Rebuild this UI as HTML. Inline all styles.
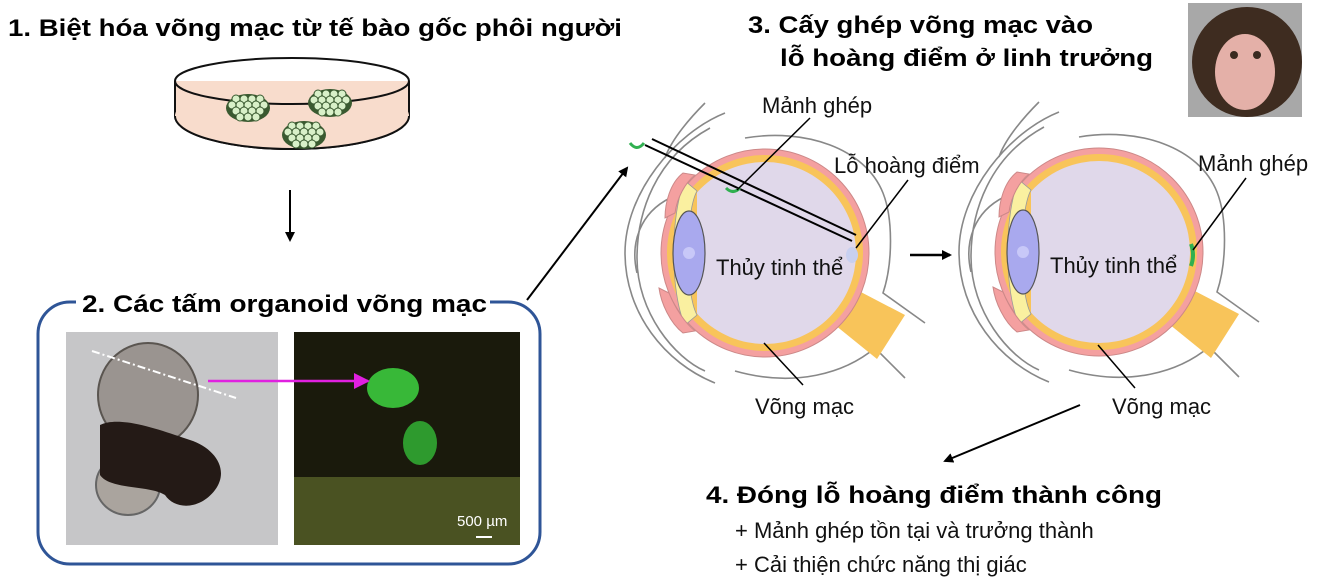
<!DOCTYPE html>
<html><head><meta charset="utf-8"><style>
html,body{margin:0;padding:0;background:#fff;width:1321px;height:587px;overflow:hidden}
text{font-family:"Liberation Sans",Arial,sans-serif}
.b{font-weight:bold;font-size:24px;fill:#000}
.n{font-size:22px;fill:#111}
</style></head><body>
<svg width="1321" height="587" viewBox="0 0 1321 587" xmlns="http://www.w3.org/2000/svg">
<defs>
<marker id="ah" markerWidth="10" markerHeight="10" refX="8" refY="5" orient="auto" markerUnits="userSpaceOnUse"><path d="M0,0 L10,5 L0,10 z" fill="#000"/></marker>
<marker id="am" markerWidth="16" markerHeight="16" refX="14" refY="8" orient="auto" markerUnits="userSpaceOnUse"><path d="M0,0 L16,8 L0,16 z" fill="#e020e0"/></marker>
<clipPath id="vc"><rect x="-68" y="-120" width="200" height="240"/></clipPath>
<g id="col">
 <ellipse rx="22" ry="14" fill="#3a5a30"/>
 <g fill="#d8f0c8" stroke="#3a5a30" stroke-width="1">
  <circle cx="-12" cy="-9" r="4"/><circle cx="-4" cy="-9" r="4"/><circle cx="4" cy="-9" r="4"/><circle cx="12" cy="-9" r="4"/>
  <circle cx="-16" cy="-3" r="4"/><circle cx="-8" cy="-3" r="4"/><circle cx="0" cy="-3" r="4"/><circle cx="8" cy="-3" r="4"/><circle cx="16" cy="-3" r="4"/>
  <circle cx="-12" cy="3" r="4"/><circle cx="-4" cy="3" r="4"/><circle cx="4" cy="3" r="4"/><circle cx="12" cy="3" r="4"/>
  <circle cx="-8" cy="9" r="4"/><circle cx="0" cy="9" r="4"/><circle cx="8" cy="9" r="4"/>
 </g>
</g>
<g id="eye">
 <g fill="none" stroke="#888" stroke-width="1.6">
  <path d="M-40,-140 C-90,-120 -140,-60 -140,0 C-140,60 -100,110 -50,130"/>
  <path d="M-55,-125 C-110,-95 -128,-40 -128,5 C-128,60 -90,105 -60,118"/>
  <path d="M-95,-55 C-125,-40 -135,-10 -128,20"/>
  <path d="M-20,-115 C40,-125 100,-105 118,-60 C128,-35 128,10 118,40 L160,70"/>
  <path d="M-30,118 C30,135 80,120 110,95 L140,125"/>
  <path d="M-60,-150 C-80,-130 -95,-110 -100,-95"/>
 </g>
 <path d="M92,37 L140,62 L112,106 L70,72 Z" fill="#f8c45a"/>
 <circle r="104" fill="#f4a0a0" stroke="#c88" stroke-width="1"/>
 <circle r="98" fill="#f8c45a"/>
 <circle r="91" fill="#e0d8ea" clip-path="url(#vc)"/>
 <path d="M-68,-62 C-80,-40 -80,40 -68,62 L-80,72 C-95,40 -95,-40 -80,-72 Z" fill="#faf0a0" stroke="#999" stroke-width="0.8"/>
 <path d="M-82,-80 C-95,-70 -100,-50 -100,-35 L-90,-40 C-88,-55 -80,-70 -70,-78 Z" fill="#f4a0a0" stroke="#c88"/>
 <path d="M-82,80 C-95,70 -104,50 -106,35 L-96,40 C-90,55 -80,70 -70,78 Z" fill="#f4a0a0" stroke="#c88"/>
 <ellipse cx="-76" cy="0" rx="16" ry="42" fill="#a9a9ee" stroke="#555" stroke-width="1.2"/>
 <circle cx="-76" cy="0" r="6" fill="#c8c8f8"/>
</g>
</defs>

<text x="8" y="36" class="b" textLength="614" lengthAdjust="spacingAndGlyphs">1. Biệt hóa võng mạc từ tế bào gốc phôi người</text>
<g stroke="#111" stroke-width="2">
 <path d="M175,81 L175,116 A117,33 0 0 0 409,116 L409,81" fill="#f8dccc"/>
 <ellipse cx="292" cy="116" rx="117" ry="33" fill="#f8dccc" stroke="none"/>
 <path d="M175,116 A117,33 0 0 0 409,116" fill="none"/>
 <ellipse cx="292" cy="81" rx="117" ry="23" fill="none"/>
</g>
<use href="#col" transform="translate(248,108)"/>
<use href="#col" transform="translate(330,103)"/>
<use href="#col" transform="translate(304,135)"/>
<line x1="290" y1="190" x2="290" y2="240" stroke="#000" stroke-width="2" marker-end="url(#ah)"/>

<rect x="38" y="302" width="502" height="262" rx="32" fill="none" stroke="#2f5597" stroke-width="3"/>
<rect x="76" y="292" width="414" height="26" fill="#fff"/>
<text x="82" y="312" class="b" textLength="405" lengthAdjust="spacingAndGlyphs">2. Các tấm organoid võng mạc</text>
<rect x="66" y="332" width="212" height="213" fill="#c6c6c8"/>
<ellipse cx="148" cy="395" rx="50" ry="52" fill="#9a9490" stroke="#5a5550" stroke-width="2"/>
<ellipse cx="128" cy="485" rx="32" ry="30" fill="#aaa49e" stroke="#666" stroke-width="2"/>
<path d="M100,425 C120,415 160,430 190,440 C215,448 230,470 215,490 C200,510 175,510 165,495 C150,485 110,490 100,475 Z" fill="#241a16"/>
<line x1="92" y1="351" x2="236" y2="398" stroke="#fff" stroke-width="2" stroke-dasharray="8,3,2,3"/>
<rect x="294" y="332" width="226" height="213" fill="#1a1a0c"/>
<rect x="294" y="477" width="226" height="68" fill="#4a5222"/>
<ellipse cx="393" cy="388" rx="26" ry="20" fill="#38b838"/>
<ellipse cx="420" cy="443" rx="17" ry="22" fill="#2e9a2e"/>
<line x1="208" y1="381" x2="368" y2="381" stroke="#e020e0" stroke-width="2.5" marker-end="url(#am)"/>
<text x="457" y="526" font-size="15" fill="#fff">500 µm</text>
<line x1="476" y1="537" x2="492" y2="537" stroke="#fff" stroke-width="2"/>

<line x1="527" y1="300" x2="627" y2="168" stroke="#000" stroke-width="2" marker-end="url(#ah)"/>

<text x="748" y="33" class="b" textLength="345" lengthAdjust="spacingAndGlyphs">3. Cấy ghép võng mạc vào</text>
<text x="780" y="66" class="b" textLength="373" lengthAdjust="spacingAndGlyphs">lỗ hoàng điểm ở linh trưởng</text>
<rect x="1188" y="3" width="114" height="114" fill="#a8a8a8"/>
<ellipse cx="1247" cy="62" rx="55" ry="55" fill="#3e2c20"/>
<ellipse cx="1245" cy="72" rx="30" ry="38" fill="#e4b0a8"/>
<circle cx="1234" cy="55" r="4" fill="#3a2a20"/><circle cx="1257" cy="55" r="4" fill="#3a2a20"/>

<use href="#eye" transform="translate(765,253)"/>
<use href="#eye" transform="translate(1099,252)"/>

<path d="M630,143 Q637,152 644,143" fill="none" stroke="#30b050" stroke-width="3"/>
<line x1="645" y1="145" x2="852" y2="241" stroke="#000" stroke-width="2"/>
<line x1="652" y1="139" x2="856" y2="235" stroke="#000" stroke-width="2"/>
<path d="M726,188 Q733,195 740,188" fill="none" stroke="#30b050" stroke-width="3"/>
<ellipse cx="852" cy="255" rx="6" ry="8" fill="#c8d0f0"/>
<line x1="737" y1="190" x2="810" y2="118" stroke="#000" stroke-width="1.5"/>
<line x1="856" y1="248" x2="908" y2="180" stroke="#000" stroke-width="1.5"/>
<line x1="764" y1="343" x2="803" y2="385" stroke="#000" stroke-width="1.5"/>
<text x="762" y="113" class="n">Mảnh ghép</text>
<text x="834" y="173" class="n">Lỗ hoàng điểm</text>
<text x="716" y="275" class="n">Thủy tinh thể</text>
<text x="755" y="414" class="n">Võng mạc</text>

<line x1="910" y1="255" x2="950" y2="255" stroke="#000" stroke-width="2.5" marker-end="url(#ah)"/>

<path d="M1191,244 Q1195,255 1191,266" fill="none" stroke="#30b050" stroke-width="4"/>
<line x1="1193" y1="250" x2="1246" y2="178" stroke="#000" stroke-width="1.5"/>
<line x1="1098" y1="345" x2="1135" y2="388" stroke="#000" stroke-width="1.5"/>
<text x="1198" y="171" class="n">Mảnh ghép</text>
<text x="1050" y="273" class="n">Thủy tinh thể</text>
<text x="1112" y="414" class="n">Võng mạc</text>

<line x1="1080" y1="405" x2="945" y2="461" stroke="#000" stroke-width="2" marker-end="url(#ah)"/>

<text x="706" y="503" class="b" textLength="456" lengthAdjust="spacingAndGlyphs">4. Đóng lỗ hoàng điểm thành công</text>
<text x="735" y="538" class="n">+ Mảnh ghép tồn tại và trưởng thành</text>
<text x="735" y="572" class="n">+ Cải thiện chức năng thị giác</text>
</svg>
</body></html>
